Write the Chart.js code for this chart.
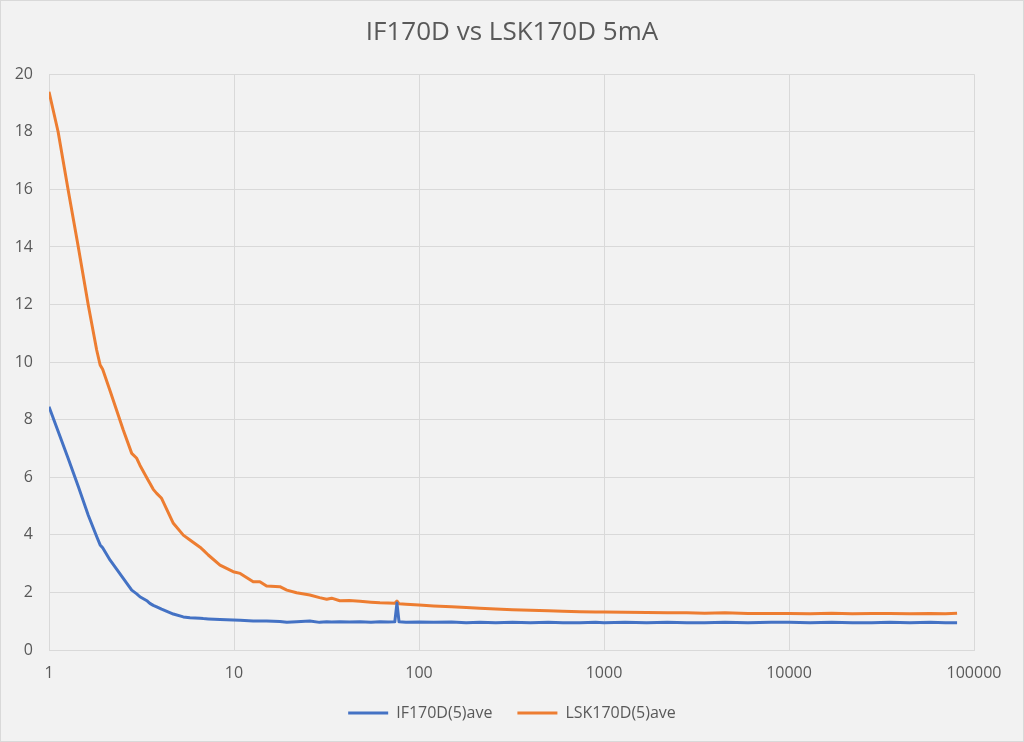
<!DOCTYPE html>
<html>
<head>
<meta charset="utf-8">
<script src="https://cdn.jsdelivr.net/npm/chart.js@4.4.1/dist/chart.umd.min.js"></script>
<style>
    html, body { margin: 0; padding: 0; background: #f2f2f2; }
    #wrap { width: 1024px; height: 742px; box-sizing: border-box; border: 1px solid #d9d9d9; background: #f2f2f2; }
    canvas { display: block; }
</style>
</head>
<body>
<div id="wrap"><canvas id="chart" width="1022" height="740"></canvas></div>
<script>
const chartTitle = 'IF170D vs LSK170D 5mA';
const seriesNames = ['IF170D(5)ave', 'LSK170D(5)ave'];
const xTickValues = [1, 10, 100, 1000, 10000, 100000];

const xs = [
    1, 1.12, 1.27, 1.44, 1.63, 1.81, 1.89, 1.95, 2.14, 2.32,
    2.52, 2.8, 2.98, 3.1, 3.4, 3.51, 3.66, 3.82, 4.06, 4.7,
    5.32, 5.78, 6.55, 6.82, 7.26, 8.4, 9.9, 10.8, 12.7, 13.8,
    15, 17.7, 19.3, 21.8, 25.7, 29, 31.7, 33.7, 37.3, 42,
    48, 55, 61.5, 68, 74, 76, 78, 85, 100, 120,
    150, 180, 213, 260, 320, 400, 500, 600, 741, 900,
    1000, 1300, 1700, 2200, 2800, 3500, 4500, 6000, 8000, 10000,
    13000, 17000, 22000, 28000, 35000, 45000, 58000, 70000, 81000
];

const if170d = [
    8.45, 7.60, 6.65, 5.68, 4.68, 3.94, 3.65, 3.55, 3.12, 2.81,
    2.49, 2.08, 1.95, 1.85, 1.70, 1.62, 1.55, 1.50, 1.42, 1.25,
    1.15, 1.12, 1.10, 1.09, 1.08, 1.06, 1.04, 1.03, 1.01, 1.01,
    1.01, 0.99, 0.96, 0.98, 1.01, 0.96, 0.98, 0.97, 0.98, 0.97,
    0.98, 0.96, 0.98, 0.97, 0.98, 1.63, 0.98, 0.96, 0.97, 0.96,
    0.97, 0.95, 0.96, 0.95, 0.96, 0.95, 0.96, 0.95, 0.95, 0.96,
    0.95, 0.96, 0.95, 0.96, 0.95, 0.95, 0.96, 0.95, 0.96, 0.96,
    0.95, 0.96, 0.95, 0.95, 0.96, 0.95, 0.96, 0.95, 0.95
];

const lsk170d = [
    19.39, 18.0, 15.97, 14.0, 11.98, 10.42, 9.90, 9.75, 9.0, 8.33,
    7.64, 6.83, 6.66, 6.42, 5.95, 5.79, 5.58, 5.44, 5.27, 4.40,
    3.99, 3.82, 3.57, 3.47, 3.30, 2.95, 2.72, 2.66, 2.37, 2.37,
    2.22, 2.20, 2.08, 1.99, 1.91, 1.82, 1.76, 1.80, 1.71, 1.72,
    1.69, 1.66, 1.64, 1.63, 1.62, 1.70, 1.61, 1.59, 1.56, 1.53,
    1.50, 1.48, 1.45, 1.42, 1.40, 1.38, 1.36, 1.35, 1.33, 1.32,
    1.32, 1.31, 1.30, 1.29, 1.29, 1.28, 1.29, 1.27, 1.27, 1.27,
    1.26, 1.28, 1.26, 1.27, 1.27, 1.26, 1.27, 1.26, 1.28
];

const textColor = '#595959';
const gridColor = '#d9d9d9';

function toPoints(ys) {
    return xs.map((x, i) => ({ x: x, y: ys[i] }));
}

const ctx = document.getElementById('chart').getContext('2d');

new Chart(ctx, {
    type: 'line',
    data: {
        datasets: [
            {
                label: seriesNames[0],
                data: toPoints(if170d),
                borderColor: '#4472c4',
                backgroundColor: '#4472c4',
                borderWidth: 3,
                borderJoinStyle: 'round',
                pointRadius: 0,
                tension: 0,
            },
            {
                label: seriesNames[1],
                data: toPoints(lsk170d),
                borderColor: '#ed7d31',
                backgroundColor: '#ed7d31',
                borderWidth: 3,
                borderJoinStyle: 'round',
                pointRadius: 0,
                tension: 0,
            },
        ],
    },
    options: {
        responsive: false,
        animation: false,
        layout: {
            padding: { left: 0, right: 0, top: 0, bottom: 10 },
        },
        scales: {
            x: {
                type: 'logarithmic',
                min: 1,
                max: 100000,
                afterBuildTicks: function (scale) {
                    scale.ticks = xTickValues.map(v => ({ value: v }));
                },
                afterFit: function (scale) {
                    scale.height = 30;
                },
                grid: {
                    color: gridColor,
                    drawTicks: false,
                },
                border: { color: gridColor },
                ticks: {
                    autoSkip: false,
                    maxRotation: 0,
                    padding: 14,
                    color: textColor,
                    font: { family: 'Open Sans', size: 16 },
                    callback: function (value) {
                        return String(value);
                    },
                },
            },
            y: {
                min: 0,
                max: 20,
                afterFit: function (scale) {
                    scale.width = 48;
                },
                grid: {
                    color: gridColor,
                    drawTicks: false,
                },
                border: { color: gridColor },
                ticks: {
                    stepSize: 2,
                    padding: 16,
                    color: textColor,
                    font: { family: 'Open Sans', size: 16 },
                },
            },
            // empty right-hand axis, only reserves the margin right of the plot
            yRight: {
                position: 'right',
                min: 0,
                max: 20,
                afterFit: function (scale) {
                    scale.width = 49;
                },
                grid: { display: false, drawTicks: false },
                border: { display: false },
                ticks: { display: false },
            },
        },
        plugins: {
            title: {
                display: true,
                text: chartTitle,
                color: textColor,
                font: { family: 'Open Sans', size: 26, weight: 'normal' },
                padding: { top: 16, bottom: 26 },
            },
            legend: {
                display: true,
                position: 'bottom',
                labels: {
                    boxWidth: 40,
                    boxHeight: 3,
                    padding: 25,
                    color: textColor,
                    font: { family: 'Open Sans', size: 16 },
                    generateLabels: function (chart) {
                        const items = Chart.defaults.plugins.legend.labels.generateLabels(chart);
                        return items.map(item => Object.assign(item, { lineWidth: 0 }));
                    },
                },
            },
            tooltip: { enabled: false },
        },
    },
});
</script>
</body>
</html>
